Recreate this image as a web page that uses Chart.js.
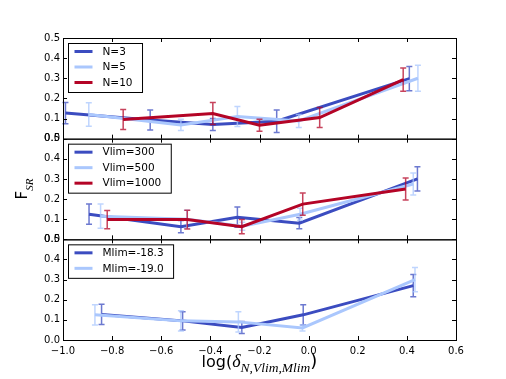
<!DOCTYPE html>
<html>
<head>
<meta charset="utf-8">
<script src="https://cdn.jsdelivr.net/npm/chart.js@4.4.1/dist/chart.umd.min.js"></script>
<style>
html, body { margin: 0; padding: 0; background: #fff; }
canvas { display: block; }
</style>
</head>
<body>
<canvas id="fsr" width="506" height="379"></canvas>
<script>
// colori (coolwarm)
const dark = '#3b4cc0', light = '#aac7fd', red = '#b40426';

// pannello 1: N
const xN3 = [-0.99, -0.645, -0.39, -0.13, 0.41];
const yN3 = [0.127, 0.093, 0.07, 0.087, 0.298];
const eN3 = [0.053, 0.05, 0.03, 0.056, 0.06];
const xN5 = [-0.895, -0.52, -0.29, -0.04, 0.445];
const yN5 = [0.12, 0.068, 0.11, 0.088, 0.30];
const eN5 = [0.058, 0.028, 0.05, 0.032, 0.065];
const xN10 = [-0.755, -0.39, -0.2, 0.045, 0.385];
const yN10 = [0.095, 0.125, 0.067, 0.105, 0.293];
const eN10 = [0.05, 0.055, 0.03, 0.05, 0.058];

// pannello 2: Vlim
const xV300 = [-0.894, -0.52, -0.29, -0.038, 0.443];
const yV300 = [0.125, 0.063, 0.11, 0.08, 0.30];
const eV300 = [0.05, 0.03, 0.05, 0.028, 0.06];
const xV500 = [-0.847, -0.496, -0.27, -0.035, 0.426];
const yV500 = [0.115, 0.1, 0.065, 0.125, 0.275];
const eV500 = [0.06, 0.045, 0.02, 0.03, 0.055];
const xV1000 = [-0.82, -0.494, -0.272, -0.024, 0.395];
const yV1000 = [0.098, 0.098, 0.063, 0.175, 0.25];
const eV1000 = [0.045, 0.047, 0.035, 0.055, 0.055];

// pannello 3: Mlim
const xM183 = [-0.843, -0.513, -0.272, -0.022, 0.426];
const yM183 = [0.127, 0.095, 0.062, 0.125, 0.27];
const eM183 = [0.05, 0.045, 0.03, 0.05, 0.055];
const xM190 = [-0.87, -0.52, -0.286, -0.025, 0.433];
const yM190 = [0.125, 0.095, 0.09, 0.06, 0.30];
const eM190 = [0.05, 0.05, 0.05, 0.015, 0.06];

// tick
const xTicks = [-1.0, -0.8, -0.6, -0.4, -0.2, 0.0, 0.2, 0.4, 0.6];
const yTicks = [0.0, 0.1, 0.2, 0.3, 0.4, 0.5];

const sans = '"DejaVu Sans", sans-serif';
const serif = '"Liberation Serif", serif';

function pts(xs, ys) {
    return xs.map((x, i) => ({ x: x, y: ys[i] }));
}

function serie(label, xs, ys, es, color, axis, order) {
    return {
        label: label,
        data: pts(xs, ys),
        errors: es,
        borderColor: color,
        backgroundColor: color,
        borderWidth: 3,
        pointRadius: 0,
        fill: false,
        tension: 0,
        yAxisID: axis,
        order: order
    };
}

function yAxis() {
    return {
        type: 'linear',
        position: 'left',
        stack: 'panels',
        stackWeight: 1,
        min: 0,
        max: 0.5,
        grid: { display: false, drawTicks: false },
        border: { display: false },
        afterBuildTicks: s => { s.ticks = yTicks.map(v => ({ value: v })); },
        ticks: {
            autoSkip: false,
            padding: 3,
            color: '#000',
            font: { family: sans, size: 10 },
            callback: v => v.toFixed(1)
        },
        afterFit: s => { s.width = 63; }
    };
}

// barre d'errore, disegnate subito dopo ogni serie
const errorBars = {
    id: 'errorBars',
    afterDatasetDraw(chart, args) {
        const ds = chart.data.datasets[args.index];
        const xs = chart.scales.x, ys = chart.scales[ds.yAxisID];
        const c = chart.ctx;
        c.save();
        c.strokeStyle = ds.borderColor;
        c.globalAlpha = 0.75;
        c.lineWidth = 1.5;
        ds.data.forEach((p, j) => {
            const px = xs.getPixelForValue(p.x);
            const top = ys.getPixelForValue(p.y + ds.errors[j]);
            const bot = ys.getPixelForValue(p.y - ds.errors[j]);
            c.beginPath();
            c.moveTo(px, top); c.lineTo(px, bot);
            c.moveTo(px - 3, top); c.lineTo(px + 3, top);
            c.moveTo(px - 3, bot); c.lineTo(px + 3, bot);
            c.stroke();
        });
        c.restore();
    }
};

// cornici, tacche interne, legende e titoli
const decorations = {
    id: 'decorations',
    afterDraw(chart) {
        const c = chart.ctx;
        const area = chart.chartArea;
        const xs = chart.scales.x;
        const axes = ['yA', 'yB', 'yC'];
        c.save();
        c.strokeStyle = '#000';
        c.lineWidth = 1;
        axes.forEach(id => {
            const s = chart.scales[id];
            c.strokeRect(area.left + 0.5, s.top + 0.5, area.right - area.left, s.bottom - s.top);
            c.beginPath();
            yTicks.forEach(v => {
                const py = Math.round(s.getPixelForValue(v)) + 0.5;
                c.moveTo(area.left, py); c.lineTo(area.left + 4, py);
                c.moveTo(area.right, py); c.lineTo(area.right - 4, py);
            });
            xTicks.forEach(v => {
                const px = Math.round(xs.getPixelForValue(v)) + 0.5;
                c.moveTo(px, s.top); c.lineTo(px, s.top + 4);
                c.moveTo(px, s.bottom); c.lineTo(px, s.bottom - 4);
            });
            c.stroke();

            // legenda del pannello
            const sets = chart.data.datasets.filter(d => d.yAxisID === id);
            c.font = '10.5px ' + sans;
            const tw = Math.max(...sets.map(d => c.measureText(d.label).width));
            const bx = area.left + 5.5, by = s.top + 5.5;
            const bw = 39 + tw + 5, bh = 8 + (sets.length - 1) * 15.5 + 10;
            c.fillStyle = '#fff';
            c.fillRect(bx, by, bw, bh);
            c.strokeStyle = '#000';
            c.strokeRect(bx, by, bw, bh);
            sets.forEach((d, k) => {
                const ry = by + 8 + k * 15.5;
                c.strokeStyle = d.borderColor;
                c.lineWidth = 3;
                c.beginPath();
                c.moveTo(bx + 6, ry); c.lineTo(bx + 24, ry);
                c.stroke();
                c.fillStyle = '#000';
                c.textBaseline = 'middle';
                c.fillText(d.label, bx + 34, ry + 0.5);
            });
            c.lineWidth = 1;
            c.strokeStyle = '#000';
        });

        // titolo asse x: log(δ_{N,Vlim,Mlim})
        const parts = [
            { t: 'log(', f: '16px ' + sans, dy: 0 },
            { t: 'δ', f: 'italic 18px ' + serif, dy: 0 },
            { t: 'N,Vlim,Mlim', f: 'italic 13.5px ' + serif, dy: 5 },
            { t: ')', f: '18px ' + sans, dy: 0 }
        ];
        let total = 0;
        parts.forEach(p => { c.font = p.f; p.w = c.measureText(p.t).width; total += p.w; });
        let x0 = (area.left + area.right) / 2 - total / 2;
        c.fillStyle = '#000';
        c.textBaseline = 'alphabetic';
        c.textAlign = 'left';
        parts.forEach(p => { c.font = p.f; c.fillText(p.t, x0, 367 + p.dy); x0 += p.w; });

        // titolo asse y: F_SR (ruotato)
        c.translate(27, (area.top + area.bottom) / 2);
        c.rotate(-Math.PI / 2);
        c.font = '15px ' + sans;
        const fw = c.measureText('F').width;
        c.font = 'italic 11px ' + serif;
        const sw = c.measureText('SR').width;
        const start = -(fw + sw) / 2;
        c.font = '15px ' + sans;
        c.fillText('F', start, 0);
        c.font = 'italic 11px ' + serif;
        c.fillText('SR', start + fw, 6);
        c.restore();
    }
};

const ctx = document.getElementById('fsr').getContext('2d');

new Chart(ctx, {
    type: 'line',
    data: {
        datasets: [
            serie('N=3', xN3, yN3, eN3, dark, 'yA', 3),
            serie('N=5', xN5, yN5, eN5, light, 'yA', 2),
            serie('N=10', xN10, yN10, eN10, red, 'yA', 1),
            serie('Vlim=300', xV300, yV300, eV300, dark, 'yB', 3),
            serie('Vlim=500', xV500, yV500, eV500, light, 'yB', 2),
            serie('Vlim=1000', xV1000, yV1000, eV1000, red, 'yB', 1),
            serie('Mlim=-18.3', xM183, yM183, eM183, dark, 'yC', 3),
            serie('Mlim=-19.0', xM190, yM190, eM190, light, 'yC', 2)
        ]
    },
    options: {
        responsive: false,
        animation: false,
        devicePixelRatio: 1,
        layout: { padding: { top: 38, right: 50, left: 0, bottom: 0 } },
        plugins: {
            legend: { display: false },
            tooltip: { enabled: false }
        },
        scales: {
            x: {
                type: 'linear',
                min: -1,
                max: 0.6,
                grid: { display: false, drawTicks: false },
                border: { display: false },
                afterBuildTicks: s => { s.ticks = xTicks.map(v => ({ value: v })); },
                ticks: {
                    autoSkip: false,
                    maxRotation: 0,
                    padding: 5,
                    color: '#000',
                    font: { family: sans, size: 10 },
                    callback: v => (v < -1e-9 ? '\u2212' : '') + Math.abs(v).toFixed(1)
                },
                afterFit: s => { s.height = 39; }
            },
            yC: yAxis(),
            yB: yAxis(),
            yA: yAxis()
        }
    },
    plugins: [errorBars, decorations]
});
</script>
</body>
</html>
